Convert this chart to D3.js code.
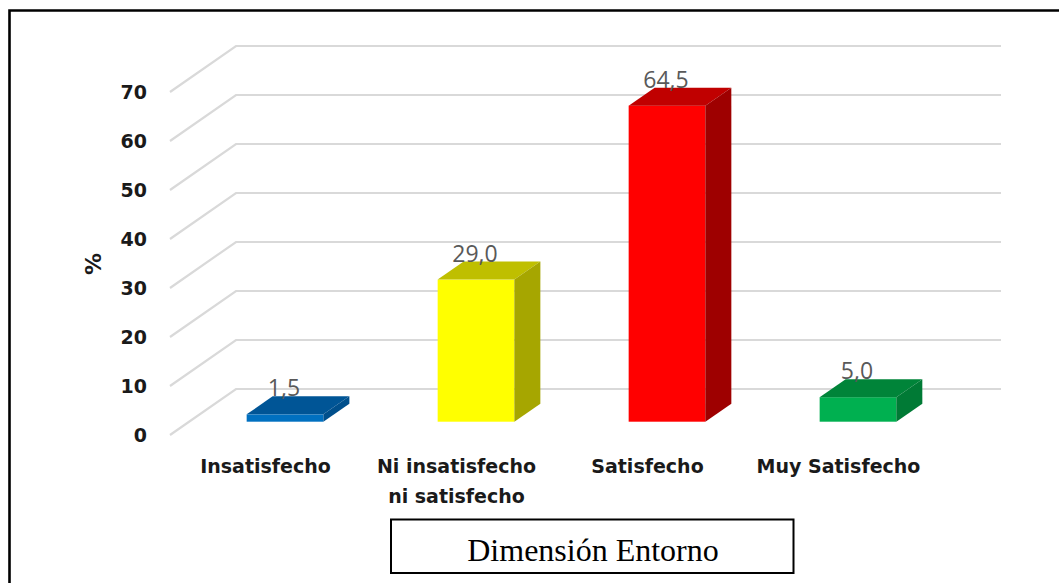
<!DOCTYPE html>
<html>
<head>
<meta charset="utf-8">
<script src="https://cdn.jsdelivr.net/npm/d3@7"></script>
<style>
html,body{margin:0;padding:0;background:#fff;overflow:hidden}
svg{display:block}
</style>
</head>
<body>
<svg id="chart" width="1059" height="583"></svg>
<script>
/* Data */
var categories=['Insatisfecho','Ni insatisfecho|ni satisfecho','Satisfecho','Muy Satisfecho'];
var values=[1.5,29.0,64.5,5.0];
var valueLabels=['1,5','29,0','64,5','5,0'];
var yTicks=[0,10,20,30,40,50,60,70];
var frontColors=['#0070c0','#ffff00','#ff0000','#00b050'];
var topColors=['#005596','#bfbf00','#c00000','#008439'];
var sideColors=['#004f8c','#a6a600','#9e0000','#007a35'];

var svg=d3.select('#chart');
var WALL_DX=66, WALL_DY=46;      /* floor depth, back wall to front edge */
var BAR_DX=26, BAR_DY=18;        /* depth of one bar */
var BAR_OFF=32.7;                /* bar front face below the wall's zero line */

var x=d3.scaleBand().domain(categories).range([189.5,953.5]).paddingInner(0.5985).paddingOuter(0.2993);
var y=d3.scaleLinear().domain([0,70]).range([389,46]);

/* Gridlines: back wall + floor/side diagonal */
var grid=svg.append('g');
yTicks.forEach(function(t){
  grid.append('path')
    .attr('d','M'+(236-WALL_DX)+','+(y(t)+WALL_DY)+' L236,'+y(t)+' L1001,'+y(t))
    .attr('fill','none').attr('stroke','#d9d9d9').attr('stroke-width',2.2);
});

/* Bars */
categories.forEach(function(c,i){
  var x0=x(c), x1=x0+x.bandwidth();
  var yb=y(0)+BAR_OFF, yt=y(values[i])+BAR_OFF;
  var g=svg.append('g');
  g.append('rect').attr('x',x0).attr('y',yt).attr('width',x1-x0).attr('height',yb-yt).attr('fill',frontColors[i]);
  g.append('path').attr('fill',topColors[i])
    .attr('d','M'+x0+','+yt+' L'+(x0+BAR_DX)+','+(yt-BAR_DY)+' L'+(x1+BAR_DX)+','+(yt-BAR_DY)+' L'+x1+','+yt+'Z');
  g.append('path').attr('fill',sideColors[i])
    .attr('d','M'+x1+','+yt+' L'+(x1+BAR_DX)+','+(yt-BAR_DY)+' L'+(x1+BAR_DX)+','+(yb-BAR_DY)+' L'+x1+','+yb+'Z');
  g.append('text').attr('x',x0+x.bandwidth()/2-1).attr('y',yt-BAR_DY)
    .attr('text-anchor','middle').attr('font-family','Open Sans,sans-serif').attr('font-size','23px')
    .attr('fill','#595959').text(valueLabels[i]);
});

/* Y axis */
var axis=svg.append('g').attr('transform','translate(147,'+WALL_DY+')')
  .call(d3.axisLeft(y).tickValues(yTicks).tickSize(0).tickPadding(0).tickFormat(d3.format('d')));
axis.select('.domain').remove();
axis.selectAll('text').attr('font-family','DejaVu Sans,sans-serif').attr('font-size','19px')
  .attr('font-weight','700').attr('fill','#1a1a1a');

svg.append('text').attr('transform','translate(101,264) rotate(-90)').attr('text-anchor','middle')
  .attr('font-family','DejaVu Sans,sans-serif').attr('font-size','22px').attr('font-weight','700')
  .attr('fill','#1a1a1a').text('%');

/* Category labels */
categories.forEach(function(c){
  var parts=c.split('|');
  parts.forEach(function(p,j){
    svg.append('text').attr('x',x(c)+x.bandwidth()/2-19.5).attr('y',473+j*30)
      .attr('text-anchor','middle').attr('font-family','DejaVu Sans,sans-serif').attr('font-size','19px')
      .attr('font-weight','700').attr('fill','#1a1a1a').text(p);
  });
});

/* Frame and caption box (frame has no right or bottom side in the picture) */
svg.append('path').attr('d','M9.5,583 V10.5 H1059').attr('fill','none').attr('stroke','#000').attr('stroke-width',2.6);
svg.append('rect').attr('x',391).attr('y',519.5).attr('width',402.5).attr('height',53.5)
  .attr('fill','#fff').attr('stroke','#000').attr('stroke-width',2);
svg.append('text').attr('x',593).attr('y',561).attr('text-anchor','middle')
  .attr('font-family','Liberation Serif,serif').attr('font-size','32px').attr('fill','#000').text('Dimensión Entorno');
</script>
</body>
</html>
